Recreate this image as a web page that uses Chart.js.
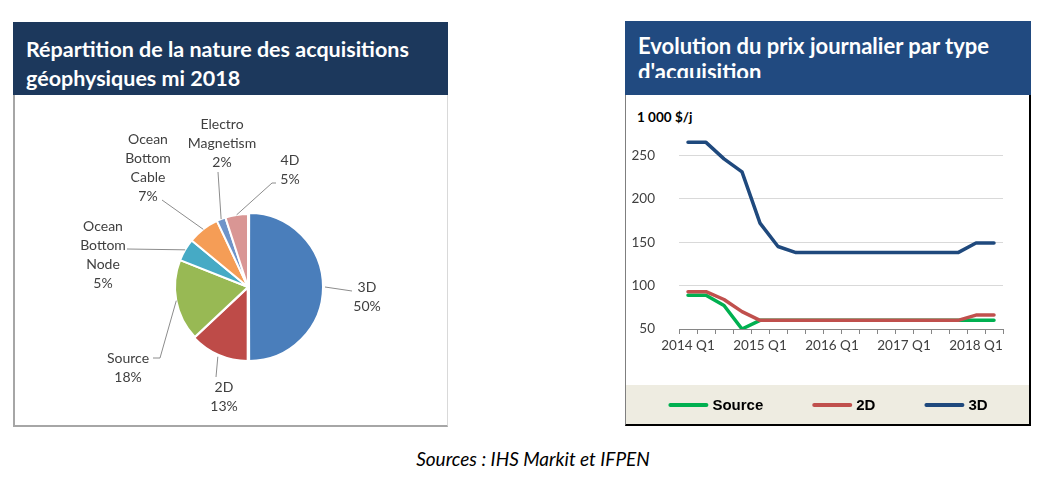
<!DOCTYPE html>
<html>
<head>
<meta charset="utf-8">
<script src="https://cdn.jsdelivr.net/npm/chart.js@4.4.1/dist/chart.umd.min.js"></script>
<style>
  * { box-sizing: border-box; }
  body { margin: 0; width: 1063px; height: 482px; background: #fff; position: relative; overflow: hidden; font-family: Lato, "Open Sans", sans-serif; }
  .band { position: absolute; color: #fff; font-weight: bold; overflow: hidden; }
  #leftBand { left: 13px; top: 22px; width: 435px; height: 73px; background: #1c385c; padding: 13px 0 0 13px; font-size: 21.5px; line-height: 29px; white-space: nowrap; }
  #leftBody { position: absolute; left: 13px; top: 95px; width: 435px; height: 332px; border-left: 2px solid #a6a6a6; border-bottom: 2px solid #a6a6a6; border-right: 1px solid #d9d9d9; }
  #rightBand { left: 625px; top: 21px; width: 406px; height: 74px; background: #214a80; }
  #rightTitle { position: absolute; left: 13px; top: 12px; width: 392px; height: 45px; overflow: hidden; font-size: 22px; line-height: 26px; white-space: nowrap; }
  #rightBody { position: absolute; left: 625px; top: 95px; width: 406px; height: 331px; border-left: 1px solid #7f7f7f; border-right: 2px solid #000; border-bottom: 2px solid #000; }
  #legendBand { position: absolute; left: 0; right: 0; bottom: 0; height: 39px; background: #eeece1; }
  #unit { position: absolute; left: 637px; top: 109px; font-weight: bold; font-size: 13.5px; color: #000; }
  #note { position: absolute; left: 0; width: 1066px; top: 447px; text-align: center; font-style: italic; font-size: 19px; color: #000; }
  canvas { position: absolute; }
</style>
</head>
<body>
<div class="band" id="leftBand">Répartition de la nature des acquisitions<br>géophysiques mi 2018</div>
<div id="leftBody"></div>
<canvas id="pie" width="432" height="330" style="left:14px;top:95px;width:432px;height:330px"></canvas>

<div class="band" id="rightBand"><div id="rightTitle">Evolution du prix journalier par type<br>d'acquisition</div></div>
<div id="rightBody"><div id="legendBand"></div></div>
<div id="unit">1 000 $/j</div>
<canvas id="line" width="406" height="330" style="left:625px;top:95px;width:406px;height:330px"></canvas>

<div id="note">Sources : IHS Markit et IFPEN</div>

<script>
// --- répartition mi 2018 (%)
const pieCategories = ['3D', '2D', 'Source', 'Ocean Bottom Node', 'Ocean Bottom Cable', 'Electro Magnetism', '4D'];
const pieShares = [50, 13, 18, 5, 7, 2, 5];
const pieColors = ['#4a7ebb', '#be4b48', '#98b954', '#46aac5', '#f59d56', '#6f94c9', '#d99694'];

// --- prix journalier (1 000 $/j), trimestriel
const quarters = ['2014 Q1', '2014 Q2', '2014 Q3', '2014 Q4', '2015 Q1', '2015 Q2', '2015 Q3', '2015 Q4',
  '2016 Q1', '2016 Q2', '2016 Q3', '2016 Q4', '2017 Q1', '2017 Q2', '2017 Q3', '2017 Q4', '2018 Q1', '2018 Q2'];
const sourcePrice = [89, 89, 77, 50, 60, 60, 60, 60, 60, 60, 60, 60, 60, 60, 60, 60, 60, 60];
const price2D = [93, 93, 84, 70, 60, 60, 60, 60, 60, 60, 60, 60, 60, 60, 60, 60, 66, 66];
const price3D = [265, 265, 246, 231, 172, 145, 138, 138, 138, 138, 138, 138, 138, 138, 138, 138, 149, 149];
const yTicks = [50, 100, 150, 200, 250];

// placement des étiquettes du camembert (relatif au centre)
const pieLabelLayout = [
  { dx: 119, dy: 10, leader: [[104, 4]] },
  { dx: -24, dy: 110, leader: [[-32, 90]] },
  { dx: -120, dy: 81, leader: [[-88, 71], [-95, 71]] },
  { dx: -145, dy: -32, leader: [[-121, -38]] },
  { dx: -100, dy: -119, leader: [[-86, -87]] },
  { dx: -26, dy: -144, leader: [[-30, -115]] },
  { dx: 42, dy: -117, leader: [[24, -104], [28, -104]] }
];

function shade(hex, amt) {
  const n = parseInt(hex.slice(1), 16);
  let r = n >> 16, g = (n >> 8) & 255, b = n & 255;
  const f = c => Math.max(0, Math.min(255, Math.round(amt > 0 ? c + (255 - c) * amt : c * (1 + amt))));
  return 'rgb(' + f(r) + ',' + f(g) + ',' + f(b) + ')';
}

const pieLabels = {
  id: 'pieLabels',
  afterDatasetsDraw(chart) {
    const ctx = chart.ctx;
    const meta = chart.getDatasetMeta(0);
    const ds = chart.data.datasets[0];
    ctx.save();
    ctx.font = '14px Lato, "Open Sans", sans-serif';
    ctx.textAlign = 'center';
    ctx.textBaseline = 'middle';
    meta.data.forEach((arc, i) => {
      const p = arc.getProps(['x', 'y', 'startAngle', 'endAngle', 'outerRadius']);
      const off = ds.offset[i] || 0;
      const mid = (p.startAngle + p.endAngle) / 2;
      const sx = p.x + Math.cos(mid) * (p.outerRadius + off);
      const sy = p.y + Math.sin(mid) * (p.outerRadius + off);
      const lay = pieLabelLayout[i];
      ctx.strokeStyle = '#8c8c8c';
      ctx.lineWidth = 1;
      ctx.beginPath();
      ctx.moveTo(sx, sy);
      lay.leader.forEach(pt => ctx.lineTo(p.x + pt[0], p.y + pt[1]));
      ctx.stroke();
      const lines = chart.data.labels[i].split(' ').concat([ds.data[i] + '%']);
      const lh = 19;
      const top = p.y + lay.dy - (lines.length - 1) * lh / 2;
      ctx.fillStyle = '#404040';
      lines.forEach((t, k) => ctx.fillText(t, p.x + lay.dx, top + k * lh));
    });
    ctx.restore();
  }
};

new Chart(document.getElementById('pie'), {
  type: 'pie',
  data: {
    labels: pieCategories,
    datasets: [{
      data: pieShares,
      backgroundColor: ctx => {
        const c = pieColors[ctx.dataIndex];
        const area = ctx.chart.chartArea;
        const el = ctx.element;
        if (!area || !el || !el.outerRadius) return c;
        const g = ctx.chart.ctx.createRadialGradient(el.x, el.y, 0, el.x, el.y, el.outerRadius + 4);
        g.addColorStop(0, shade(c, 0.18));
        g.addColorStop(0.8, c);
        g.addColorStop(1, shade(c, -0.3));
        return g;
      },
      borderColor: '#ffffff',
      borderWidth: 2,
      offset: [4, 3, 0, 0, 0, 0, 0]
    }]
  },
  options: {
    responsive: false,
    animation: false,
    radius: 73,
    layout: { padding: { left: 36, right: 0, top: 54, bottom: 0 } },
    plugins: { legend: { display: false }, tooltip: { enabled: false } }
  },
  plugins: [pieLabels]
});

const lineLegend = {
  id: 'lineLegend',
  afterDraw(chart) {
    const ctx = chart.ctx;
    const ds = chart.data.datasets;
    ctx.save();
    ctx.font = 'bold 15px "Liberation Sans", Arial, sans-serif';
    const sw = 40, gap = 4, between = 49;
    const widths = ds.map(d => sw + gap + ctx.measureText(d.label).width);
    const total = widths.reduce((a, b) => a + b, 0) + between * (ds.length - 1);
    let x = (chart.width - total) / 2;
    const y = 310;
    ds.forEach((d, i) => {
      ctx.strokeStyle = d.borderColor;
      ctx.lineWidth = 4;
      ctx.lineCap = 'round';
      ctx.beginPath();
      ctx.moveTo(x + 2, y);
      ctx.lineTo(x + sw - 2, y);
      ctx.stroke();
      ctx.fillStyle = '#000';
      ctx.textAlign = 'left';
      ctx.textBaseline = 'middle';
      ctx.fillText(d.label, x + sw + gap, y + 1);
      x += widths[i] + between;
    });
    ctx.restore();
  }
};

const tickFont = { family: 'Lato, "Open Sans", sans-serif', size: 13.5 };

new Chart(document.getElementById('line'), {
  type: 'line',
  data: {
    labels: quarters,
    datasets: [
      { label: 'Source', data: sourcePrice, borderColor: '#00b050', order: 2 },
      { label: '2D', data: price2D, borderColor: '#c0504d', order: 1 },
      { label: '3D', data: price3D, borderColor: '#1f497d', order: 0 }
    ]
  },
  options: {
    responsive: false,
    animation: false,
    layout: { padding: { left: 0, right: 28, top: 43, bottom: 71 } },
    elements: {
      line: { borderWidth: 3.5, tension: 0, borderJoinStyle: 'round', borderCapStyle: 'round' },
      point: { radius: 0 }
    },
    scales: {
      x: {
        offset: true,
        grid: { offset: true, drawOnChartArea: false, drawTicks: true, tickLength: 5, color: '#868686' },
        border: { color: '#868686' },
        ticks: {
          autoSkip: false, maxRotation: 0, padding: 4, color: '#404040', font: tickFont,
          callback: (v, i) => i % 4 === 0 ? quarters[i] : ''
        },
        afterFit: s => { s.height = 25; }
      },
      y: {
        min: 50,
        max: 270,
        afterBuildTicks: s => { s.ticks = yTicks.map(v => ({ value: v })); },
        afterFit: s => { s.width = 54; },
        grid: { drawTicks: false, color: c => c.tick && c.tick.value === 50 ? 'rgba(0,0,0,0)' : '#d9d9d9' },
        border: { display: false },
        ticks: { padding: 24, color: '#404040', font: tickFont }
      }
    },
    plugins: { legend: { display: false }, tooltip: { enabled: false } }
  },
  plugins: [lineLegend]
});
</script>
</body>
</html>
